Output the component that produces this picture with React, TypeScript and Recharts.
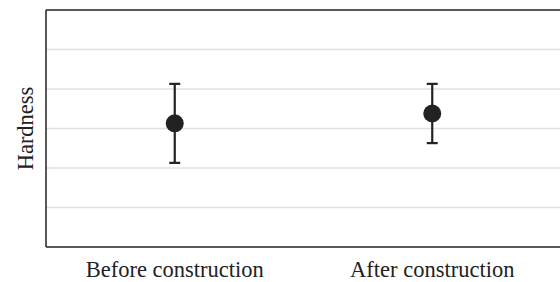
import React from 'react';
import { ComposedChart, Line, ErrorBar, XAxis, YAxis, ReferenceLine } from 'recharts';

// values (y scale 0–6, no tick labels shown)
const categories = ['Before construction', 'After construction'];
const means = [3.13, 3.38];
const errors = [1.0, 0.75];
const gridTicks = [1, 2, 3, 4, 5];
const yMax = 6;

const data = categories.map((name, i) => ({ name, mean: means[i], err: errors[i] }));

const ink = '#222222';
const font = '"Liberation Serif", "Times New Roman", serif';

export default function App() {
  return (
    <div style={{ position: 'absolute', left: 0, top: 0, width: 560, height: 282, overflow: 'hidden', background: '#fff' }}>
      <ComposedChart width={562} height={282} data={data} margin={{ top: 10, right: 1, bottom: 0, left: 0 }}>
        {/* light horizontal grid */}
        {gridTicks.map((t) => (
          <ReferenceLine key={t} y={t} stroke="#e0e0e0" strokeWidth={1.5} />
        ))}
        {/* top edge of the panel */}
        <ReferenceLine y={yMax} stroke={ink} strokeWidth={1.5} />
        <XAxis
          dataKey="name"
          scale="band"
          height={35}
          interval={0}
          tickLine={false}
          tickSize={6}
          tickMargin={8}
          axisLine={{ stroke: ink, strokeWidth: 1.5 }}
          tick={{ fill: ink, fontSize: 22.5, fontFamily: font }}
        />
        <YAxis
          width={46}
          domain={[0, yMax]}
          ticks={gridTicks}
          tick={false}
          tickLine={false}
          axisLine={{ stroke: ink, strokeWidth: 1.5 }}
          label={{
            value: 'Hardness',
            angle: -90,
            position: 'center',
            dx: 2,
            style: { fill: ink, fontSize: 22.5, fontFamily: font },
          }}
        />
        <Line
          dataKey="mean"
          stroke="none"
          dot={{ r: 9, fill: ink, stroke: 'none' }}
          activeDot={false}
          isAnimationActive={false}
        >
          <ErrorBar dataKey="err" width={5.5} strokeWidth={2.2} stroke={ink} />
        </Line>
      </ComposedChart>
    </div>
  );
}
